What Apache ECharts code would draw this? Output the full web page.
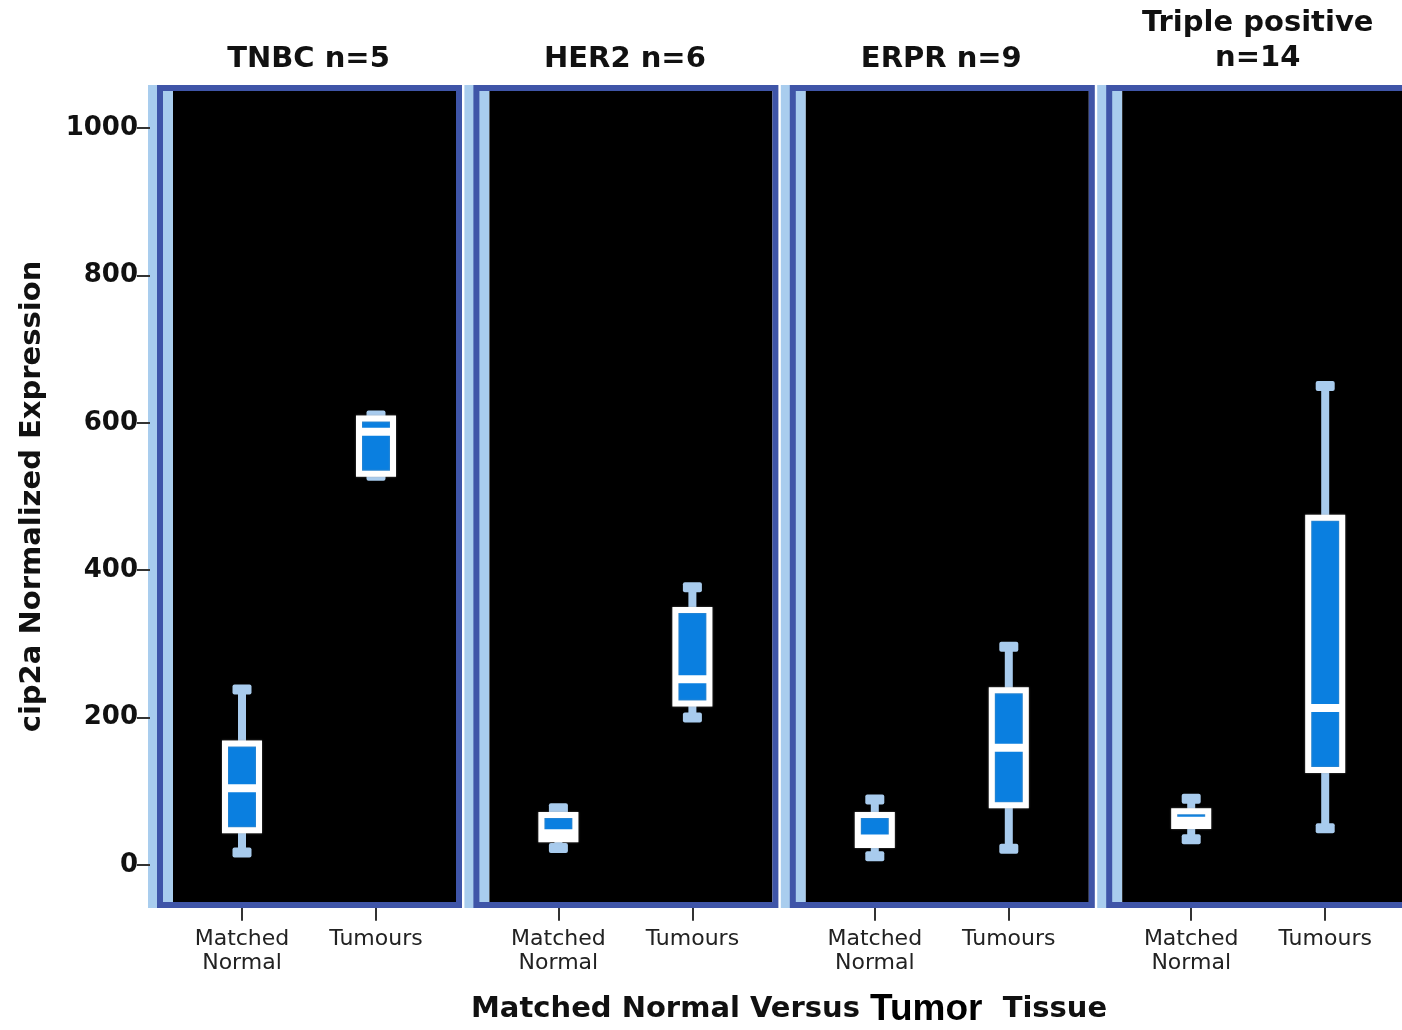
<!DOCTYPE html>
<html>
<head>
<meta charset="utf-8">
<title>cip2a expression by subtype</title>
<script src="https://cdn.jsdelivr.net/npm/echarts@6/dist/echarts.min.js"></script>
<style>
  html, body { margin: 0; padding: 0; background: #fff; }
  #chart { width: 1402px; height: 1030px; }
</style>
</head>
<body>
<div id="chart"></div>
<script>
// Groups along the x axis of every panel
const categories = ['Matched\nNormal', 'Tumours'];
// Panel headings
const panelTitles = ['TNBC n=5', 'HER2 n=6', 'ERPR n=9', 'Triple positive\nn=14'];
// Box statistics per group: [min, Q1, median, Q3, max]
const tnbc   = [[17, 47, 104, 165, 238], [528, 531, 588, 606, 610]];
const her2   = [[23, 35, 43, 68, 77],    [200, 219, 252, 346, 377]];
const erpr   = [[12, 27, 36, 68, 89],    [22, 81, 159, 237, 296]];
const triple = [[35, 53, 60, 73, 90],    [50, 129, 213, 471, 650]];
// Y axis tick values
const yTicks = [0, 200, 400, 600, 800, 1000];

const panels = [tnbc, her2, erpr, triple];

// Layout of the four panels
const FRAME_LEFT = 157, FRAME_STEP = 316.4, FRAME_W = 305;
const FRAME_TOP = 85, FRAME_BOTTOM = 908, FRAME_LINE = 6;
const PLOT_TOP = 91.15, PLOT_H = 810.7;
const PLOT_OFFSET = 18, PLOT_W = 268;

const BLACK = '#000000';
const FRAME_BLUE = '#3f55a8';
const STRIP_BLUE = '#a9cdee';
const BOX_BLUE = '#0a7fe0';
const WHISKER = '#a8cbed';

const FONT = 'DejaVu Sans';

const grids = [], xAxes = [], yAxes = [], series = [], titles = [], graphics = [];

panels.forEach((stats, i) => {
  const fx = FRAME_LEFT + i * FRAME_STEP;

  // panel decoration: light strip, black plot area and blue frame
  graphics.push({
    type: 'rect', z: 0, silent: true,
    shape: { x: fx - 9, y: FRAME_TOP, width: 25, height: FRAME_BOTTOM - FRAME_TOP },
    style: { fill: STRIP_BLUE }
  });
  graphics.push({
    type: 'rect', z: 0, silent: true,
    shape: { x: fx + 16, y: FRAME_TOP + FRAME_LINE, width: FRAME_W - 16 - FRAME_LINE, height: FRAME_BOTTOM - FRAME_TOP - 2 * FRAME_LINE },
    style: { fill: BLACK }
  });
  graphics.push({
    type: 'rect', z: 1, silent: true,
    shape: { x: fx + FRAME_LINE / 2, y: FRAME_TOP + FRAME_LINE / 2, width: FRAME_W - FRAME_LINE, height: FRAME_BOTTOM - FRAME_TOP - FRAME_LINE },
    style: { fill: null, stroke: FRAME_BLUE, lineWidth: FRAME_LINE }
  });

  grids.push({
    left: fx + PLOT_OFFSET, top: PLOT_TOP, width: PLOT_W, height: PLOT_H,
    containLabel: false
  });

  xAxes.push({
    type: 'category', gridIndex: i, data: categories, boundaryGap: true,
    offset: 6,
    axisLine: { show: false, onZero: false },
    axisTick: { show: true, alignWithLabel: true, length: 13, lineStyle: { color: '#333', width: 2 } },
    axisLabel: { fontFamily: FONT, fontSize: 22, color: '#222', lineHeight: 24, margin: 19 },
    splitLine: { show: false }
  });

  yAxes.push({
    type: 'value', gridIndex: i, min: -50, max: 1050,
    offset: 25,
    show: i === 0,
    name: i === 0 ? 'cip2a Normalized Expression' : '',
    nameLocation: 'middle', nameRotate: 90, nameGap: 103,
    nameTextStyle: { fontFamily: FONT, fontWeight: 'bold', fontSize: 29, color: '#111' },
    axisLine: { show: false },
    axisTick: { show: true, customValues: yTicks, length: 13, lineStyle: { color: '#333', width: 2 } },
    axisLabel: {
      customValues: yTicks, fontFamily: FONT, fontWeight: 'bold', fontSize: 26, color: '#111', margin: 12,
      formatter: v => String(v)
    },
    splitLine: { show: false }
  });

  series.push({
    type: 'custom', xAxisIndex: i, yAxisIndex: i, z: 5,
    data: stats.map((s, k) => [k].concat(s)),
    encode: { x: 0, y: [1, 2, 3, 4, 5] },
    renderItem: (params, api) => {
      const k = api.value(0);
      const cx = api.coord([k, api.value(1)])[0];
      const yMin = api.coord([k, api.value(1)])[1];
      const yQ1 = api.coord([k, api.value(2)])[1];
      const yMed = api.coord([k, api.value(3)])[1];
      const yQ3 = api.coord([k, api.value(4)])[1];
      const yMax = api.coord([k, api.value(5)])[1];
      const half = 17;
      return {
        type: 'group',
        children: [
          { type: 'line', shape: { x1: cx, y1: yMax, x2: cx, y2: yMin }, style: { stroke: WHISKER, lineWidth: 8 } },
          { type: 'rect', shape: { x: cx - 9.5, y: yMax - 5, width: 19, height: 10, r: 2 }, style: { fill: WHISKER } },
          { type: 'rect', shape: { x: cx - 9.5, y: yMin - 5, width: 19, height: 10, r: 2 }, style: { fill: WHISKER } },
          { type: 'rect', shape: { x: cx - half, y: yQ3, width: 2 * half, height: yQ1 - yQ3 },
            style: { fill: BOX_BLUE, stroke: '#ffffff', lineWidth: 6, shadowBlur: 2, shadowColor: 'rgba(160,160,160,0.6)' } },
          { type: 'line', shape: { x1: cx - half, y1: yMed, x2: cx + half, y2: yMed }, style: { stroke: '#ffffff', lineWidth: 8 } }
        ]
      };
    }
  });

  titles.push({
    text: panelTitles[i],
    left: fx + FRAME_W / 2 - 6,
    top: i === 3 ? 1 : 37,
    textAlign: 'center',
    textStyle: { fontFamily: FONT, fontWeight: 'bold', fontSize: 29, color: '#111', lineHeight: 35 }
  });
});

// Shared x axis title
titles.push({
  text: 'Matched Normal Versus {t|Tumor}  Tissue',
  left: FRAME_LEFT + (3 * FRAME_STEP + FRAME_W) / 2,
  top: 986,
  textAlign: 'center',
  textStyle: {
    fontFamily: FONT, fontWeight: 'bold', fontSize: 29, color: '#111',
    rich: { t: { fontFamily: 'Liberation Sans', fontWeight: 'bold', fontSize: 37, color: '#000' } }
  }
});

const chart = echarts.init(document.getElementById('chart'), null, { renderer: 'canvas' });
chart.setOption({
  backgroundColor: '#ffffff',
  animation: false,
  title: titles,
  graphic: { elements: graphics },
  grid: grids,
  xAxis: xAxes,
  yAxis: yAxes,
  series: series
});
</script>
</body>
</html>
